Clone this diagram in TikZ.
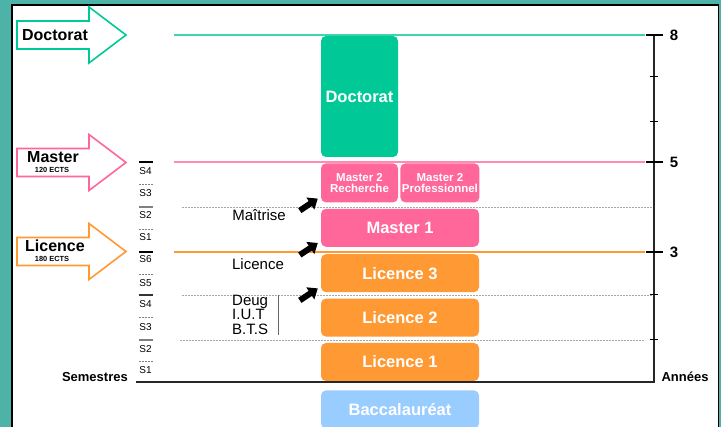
\documentclass[tikz,border=0pt]{standalone}
\usepackage{fontspec}
\setmainfont{Liberation Sans}
\usepackage{tikz}
\usetikzlibrary{arrows.meta, positioning, calc}

\definecolor{bgteal}{RGB}{77,179,168}
\definecolor{docgreen}{RGB}{0,201,151}
\definecolor{docline}{RGB}{60,214,170}
\definecolor{mpink}{RGB}{255,102,153}
\definecolor{mline}{RGB}{255,140,175}
\definecolor{lorange}{RGB}{255,153,51}
\definecolor{bacblue}{RGB}{153,204,255}

\begin{document}
\begin{tikzpicture}[x=1pt, y=-1pt, node distance=6pt,
    box/.style={rounded corners=5pt, inner sep=0pt, text=white,
      font=\bfseries\fontsize{16.5}{19}\selectfont, minimum width=158pt, minimum height=38pt},
    smallbox/.style={box, fill=mpink, minimum height=39pt, align=center,
      font=\bfseries\fontsize{11.5}{11.5}\selectfont},
    outline/.style={line width=1.6pt, fill=white},
    big/.style={font=\bfseries\fontsize{16}{18}\selectfont, inner sep=0pt},
    ects/.style={font=\bfseries\fontsize{7.4}{8}\selectfont, inner sep=0pt},
    lbl/.style={font=\fontsize{15}{14.5}\selectfont, inner sep=0pt},
    sem/.style={font=\fontsize{10}{11}\selectfont, inner sep=0pt},
    num/.style={font=\bfseries\fontsize{15}{17}\selectfont, inner sep=0pt},
    axisname/.style={font=\bfseries\fontsize{13}{15}\selectfont, inner sep=0pt},
    grid/.style={gray!70, line width=0.6pt, dash pattern=on 2pt off 1pt},
    fatarrow/.style={line width=6pt, -{Triangle[length=9pt,width=14pt]}}]
  % frame
  \useasboundingbox (0,0) rectangle (721,427);
  \fill[bgteal] (0,0) rectangle (721,427);
  \draw[fill=white, line width=1.5pt] (12,5) rectangle (718.5,440);

  % big arrows on the left
  \foreach \y/\c in {35/docgreen, 162.5/mpink, 251.5/lorange}
    \draw[outline, draw=\c] (17,\y-14) -- (89,\y-14) -- (89,\y-28) -- (126,\y)
      -- (89,\y+28) -- (89,\y+14) -- (17,\y+14) -- cycle;
  \node[big] (adoc) at (55,35) {Doctorat};
  \node[big] (amas) at (53,157) {Master};
  \node[ects] (emas) at (52,169.5) {120 ECTS};
  \node[big] (alic) at (55,246) {Licence};
  \node[ects] (elic) at (52,259) {180 ECTS};

  % level lines
  \draw[docline, line width=1.2pt] (174,35) -- (645,35);
  \draw[mline, line width=1.2pt] (174,162) -- (645,162);
  \draw[lorange, line width=1.2pt] (174,252) -- (645,252);
  \draw[grid] (182,207) -- (653,207);
  \draw[grid] (182,295) -- (653,295);
  \draw[grid] (180,340) -- (645,340);

  % boxes
  \node[box, fill=lorange] (l1) at (400,362) {Licence 1};
  \node[box, fill=lorange] (l2) [above=of l1] {Licence 2};
  \node[box, fill=lorange] (l3) [above=of l2] {Licence 3};
  \node[box, fill=mpink] (m1) [above=7pt of l3] {Master 1};
  \node[smallbox, minimum width=77pt] (m2r) [above=of m1.north west, anchor=south west] {Master 2\\Recherche};
  \node[smallbox, minimum width=79pt] (m2p) [right=2pt of m2r] {Master 2\\Professionnel};
  \node[box, fill=docgreen, minimum width=77pt, minimum height=121pt] (doc) [above=of m2r] {Doctorat};
  \node[box, fill=bacblue] (bac) [below=9pt of l1] {Baccalauréat};

  % former diplomas
  \node[lbl] (mait) at (259,215) {Maîtrise};
  \node[lbl] (lic) at (258,264) {Licence};
  \node[lbl, align=left, anchor=west] (deug) at (232,314.5) {Deug\\I.U.T\\B.T.S};
  \draw[gray!80!black, line width=0.8pt] (278,295) -- (278,335);
  \foreach \b in {m2r, m1, l3}
    \draw[fatarrow] ($(\b.south west)+(-21,8)$) -- ($(\b.south west)+(-3,-4)$);

  % semesters
  \foreach \y/\s in {171/S4, 193/S3, 215/S2, 237/S1, 259/S6, 283/S5, 304/S4, 327/S3, 349/S2, 370/S1}
    \node[sem] (s\y) at (145.5,\y) {\s};
  \foreach \y/\c in {162/black, 207/gray, 252/black, 295/black!80, 340/gray}
    \draw[\c, line width=1.5pt] (139,\y) -- (153,\y);
  \foreach \y in {184, 229, 274, 317, 361}
    \draw[gray, line width=0.6pt, dash pattern=on 2pt off 1pt] (139,\y) -- (153,\y);
  \node[axisname, anchor=east] (sems) at (128,377) {Semestres};

  % years axis
  \draw[black!85, line width=1.5pt] (654,35) -- (654,382) -- (136,382);
  \foreach \y/\n in {35/8, 162/5, 252/3} {
    \draw[line width=1.5pt] (646,\y) -- (663,\y);
    \node[num] (y\n) at (674,\y) {\n};
  }
  \foreach \y in {77, 122, 295, 340}
    \draw[line width=1pt] (650,\y) -- (658,\y);
  \node[axisname] (ann) at (685,377) {Années};
\end{tikzpicture}
\end{document}
